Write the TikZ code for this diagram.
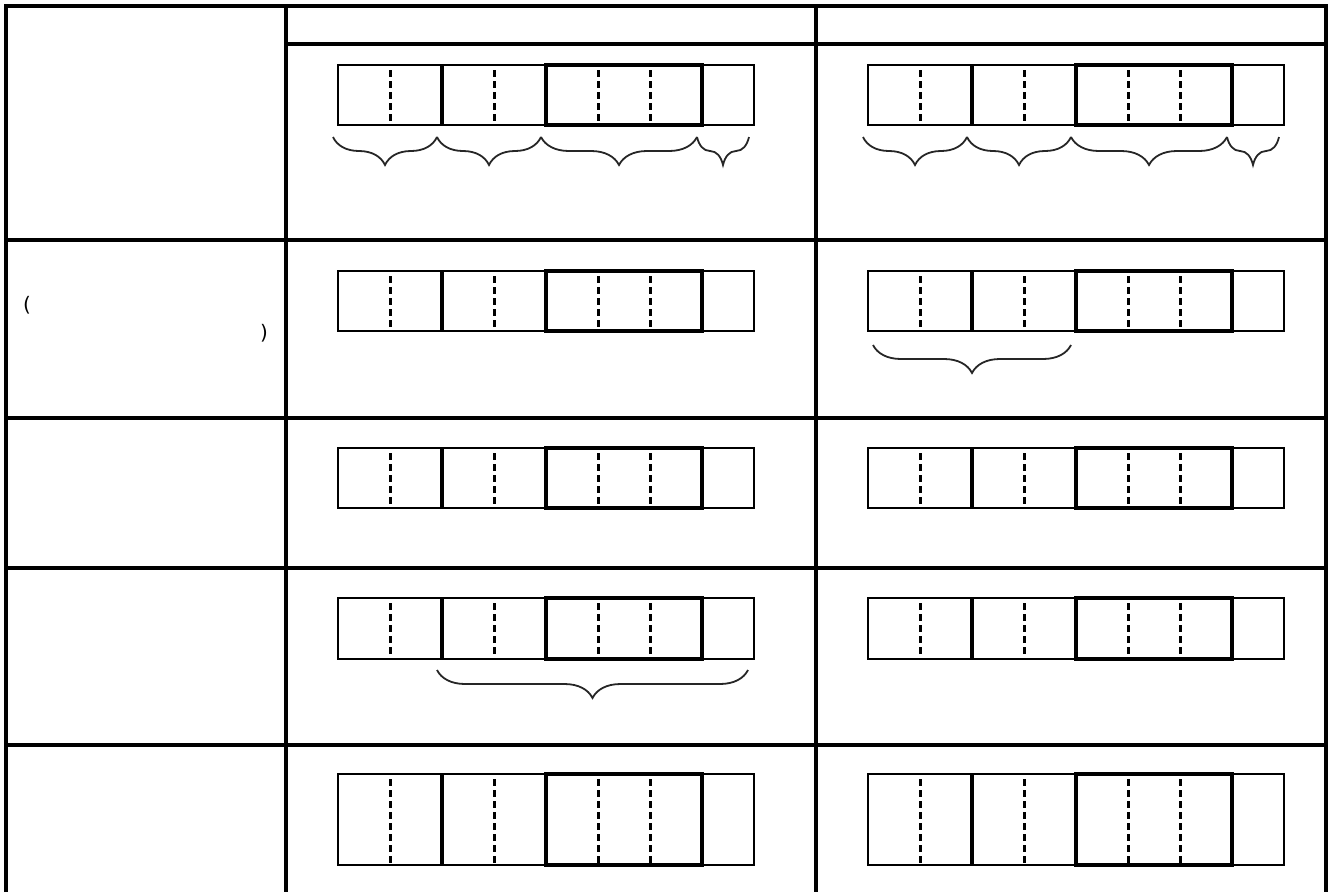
\documentclass[tikz,border=0pt]{standalone}
\usepackage{fontspec}
\setmainfont{DejaVu Sans}
\usetikzlibrary{decorations.pathreplacing}
\tikzset{
  gridln/.style={line width=4pt, line join=miter},
  thinbox/.style={line width=2pt},
  thickbox/.style={line width=3.6pt},
  dashln/.style={line width=3pt, dash pattern=on 7pt off 4pt},
  brc/.style={line width=1.8pt, draw=black!85, decorate,
    decoration={brace, mirror, amplitude=28pt, aspect=0.5}},
  paren/.style={font=\fontsize{20}{24}\selectfont, inner sep=0pt}
}
\newcommand\myreg[3]{%
  \draw[thinbox] (#1,#2) rectangle (#1+416,#3);
  \foreach \d in {52,156,260,312} \draw[dashln] (#1+\d,#2+5) -- (#1+\d,#3);
  \draw[thickbox] (#1+104,#2) -- (#1+104,#3);
  \draw[thickbox] (#1+208,#2) rectangle (#1+364,#3);
}
\begin{document}
\begin{tikzpicture}[x=1pt,y=-1pt]
\useasboundingbox (0,0) rectangle (1333,892);
% table
\draw[gridln] (6,892) -- (6,6) -- (1326,6) -- (1326,892);
\draw[gridln] (286,6) -- (286,892);
\draw[gridln] (816,6) -- (816,892);
\draw[gridln] (286,44) -- (1326,44);
\foreach \y in {240,418,568,745} \draw[gridln] (6,\y) -- (1326,\y);
% registers
\foreach \yt/\yb in {65/125,271/331,448/508,598/659,774/865} {
  \myreg{338}{\yt}{\yb}
  \myreg{868}{\yt}{\yb}
}
% braces row 1
\foreach \xo in {0,530} {
  \draw[brc] (333+\xo,137) -- (437+\xo,137);
  \draw[brc] (437+\xo,137) -- (541+\xo,137);
  \draw[brc] (541+\xo,137) -- (697+\xo,137);
  \draw[brc] (697+\xo,137) -- (749+\xo,137);
}
% brace row 2 col 3
\draw[brc] (873,345) -- (1071,345);
% brace row 4 col 2
\draw[brc] (437,670) -- (748,670);
% parentheses
\node[paren] (lp) at (27,305) {(};
\node[paren] (rp) at (264,333) {)};
\end{tikzpicture}
\end{document}
